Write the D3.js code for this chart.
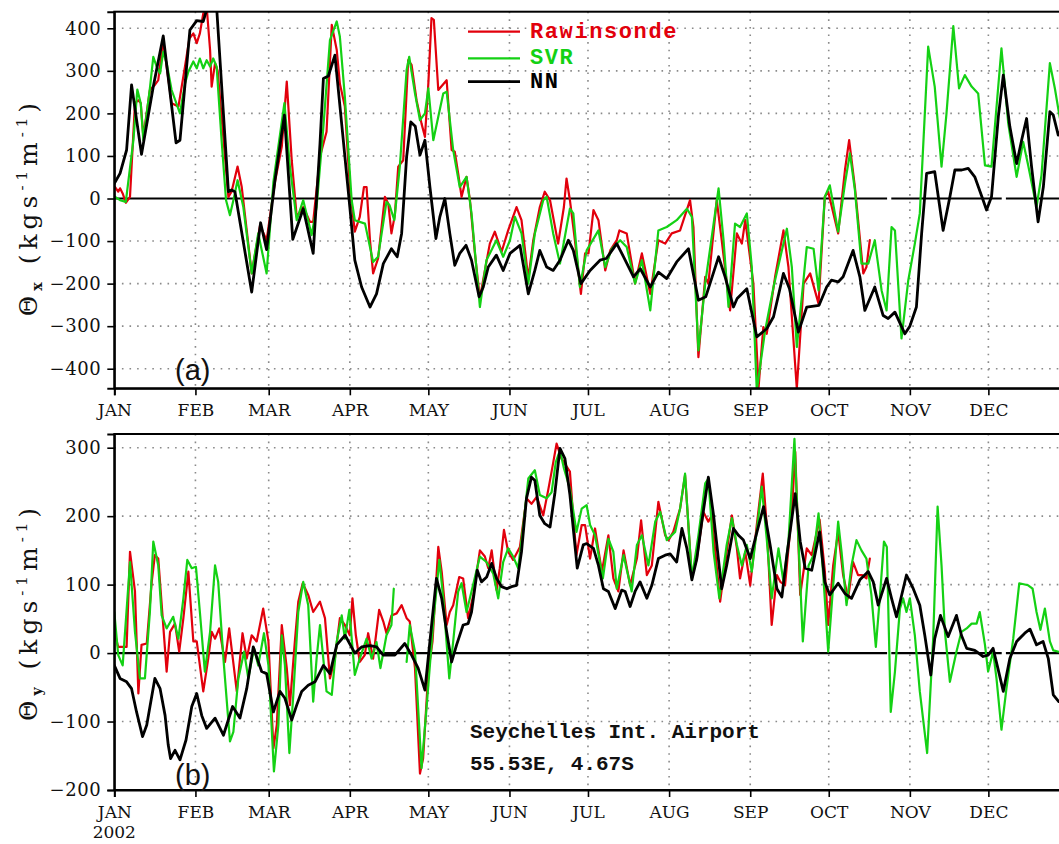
<!DOCTYPE html>
<html>
<head>
<meta charset="utf-8">
<script src="https://cdn.jsdelivr.net/npm/d3@7"></script>
<style>
  body { margin: 0; background: #fff; }
  svg { display: block; }
</style>
</head>
<body>
<svg id="chart" width="1059" height="844"></svg>
<script>
// ---- calendar axis (day of year 2002, 0 = Jan 1) ----
const monthStarts = [0, 31, 59, 90, 120, 151, 181, 212, 243, 273, 304, 334];
const monthLabels = ["JAN", "FEB", "MAR", "APR", "MAY", "JUN", "JUL", "AUG", "SEP", "OCT", "NOV", "DEC"];
const yearLabel = "2002";

// ---- y ticks ----
const yTicksA = [-400, -300, -200, -100, 0, 100, 200, 300, 400];
const yTicksB = [-200, -100, 0, 100, 200, 300];

// days with no reference line drawn
const zeroLineGaps = [[295.3, 296.9], [339.1, 340.7]];

// ---- series names ----
const seriesNames = ["Rawinsonde", "SVR", "NN"];

// ---- panel (a): zonal transport, [day, value] ----
const rawX = [[0.3,27],[1.5,16],[2.2,24],[3.2,12],[4.4,-10],[6,4],[7.9,224],[9.2,231],[10.1,224],[11.1,145],[13.6,255],[15.5,267],[16.8,278],[18.7,372],[20,310],[21.9,224],[24.5,216],[27,310],[28.7,376],[30.2,388],[31.5,365],[32.7,388],[34,435],[35.3,450],[36.6,349],[37.2,263],[38.5,318],[39.5,300],[43.6,4],[44.8,16],[47.1,75],[48.7,27],[52.5,-176],[55.7,-63],[58.2,-98],[61.4,39],[64,122],[65.9,275],[67.8,90],[69.7,-43],[72.2,-20],[74.8,-55],[76,-55],[78.6,98],[81.1,157],[83.1,408],[85,349],[86.2,270],[88.1,216],[90,27],[91.9,-78],[93.8,-43],[95.4,27],[96.4,27],[97.7,-98],[98.9,-176],[100.8,-141],[103.4,4],[104.7,-12],[105.9,-82],[107.2,-39],[108.5,75],[110.4,90],[112.3,325],[113.6,314],[115.5,231],[117.4,176],[118.7,145],[120,270],[121.2,424],[122.1,420],[123.8,255],[127,278],[128.9,114],[130.1,110],[131.4,59],[132.7,4],[134.6,51],[135.9,-4],[137.8,-129],[139.7,-235],[141.6,-169],[143.5,-106],[145.4,-78],[148,-125],[150.5,-75],[153.7,-20],[155.6,-51],[158.2,-188],[160.1,-98],[162.6,-20],[164.5,16],[166.5,-4],[169.6,-106],[171.8,-20],[172.8,47],[174.1,-4],[176,-98],[178.3,-224],[179.9,-129],[181.2,-129],[183.1,-27],[185,-51],[187.6,-169],[189.5,-122],[192,-98],[193,-75],[195.8,-82],[199,-200],[201.6,-129],[204.8,-224],[207.9,-98],[210.5,-106],[213,-82],[216.2,-75],[220,-4],[221.3,-67],[223.2,-373],[225.8,-184],[227,-200],[230.2,-4],[232.1,-98],[235.3,-263],[237.9,-82],[239.8,-106],[241.1,-51],[244.2,-200],[246.2,-443],[248,-302],[249.3,-318],[252.5,-184],[255.7,-75],[257.6,-161],[260.8,-447],[263.4,-200],[265.9,-176],[269.1,-247],[271.5,4],[272.8,16],[276.6,-82],[279.2,67],[280.8,137],[283,27],[286.2,-176],[287.4,-161],[288.7,-98]];

const svrX = [[0.3,4],[2.2,-4],[4.4,-8],[7.3,137],[8.8,256],[10.1,224],[11.1,137],[13.6,259],[14.9,333],[16.2,310],[17.5,294],[18.7,345],[20,318],[21.9,255],[25.1,200],[27,270],[28.3,298],[30.2,322],[31.5,306],[32.7,329],[34,306],[35.3,325],[36.6,310],[37.8,329],[39.1,310],[41,137],[42.7,-4],[44.2,-39],[45.5,-4],[47.1,43],[49.3,-20],[52.5,-176],[55,-82],[58.2,-176],[60.8,39],[65,224],[67.1,75],[69.7,-51],[72.2,-4],[75.4,-86],[77.3,-20],[79.9,169],[82.4,372],[85,416],[86.2,380],[88.1,239],[90.7,-4],[91.9,-51],[95.8,-59],[98.9,-149],[100.8,-137],[104,-8],[105.2,-16],[107,-51],[109.1,75],[111.7,302],[112.7,333],[114.9,247],[116.8,184],[118.7,200],[120,259],[121.9,137],[123.8,192],[125.7,247],[127,251],[129.5,114],[132,27],[134.6,51],[136.5,-35],[139.7,-255],[142.2,-145],[143.5,-129],[146,-98],[148.6,-137],[151.2,-98],[153.1,-43],[155.6,-82],[158.2,-200],[160.7,-82],[163.9,-4],[165.2,4],[167.7,-82],[170.3,-153],[174.1,-24],[175.4,-35],[177.9,-208],[180.5,-122],[185,-75],[187.6,-161],[190.1,-118],[193.3,-98],[195.8,-114],[199,-200],[201.6,-145],[204.8,-263],[207.9,-75],[211.1,-67],[214.9,-51],[218.8,-24],[220.7,-43],[223.2,-357],[225.8,-200],[228.3,-90],[230.9,24],[232.8,-98],[234.7,-255],[237.2,-59],[239.1,-67],[241.7,-35],[243.6,-161],[245.5,-451],[248.7,-310],[251.9,-208],[257,-71],[258.9,-161],[260.8,-349],[264.6,-114],[267.2,-118],[269.1,-216],[271.5,4],[273.4,31],[276.6,-78],[279.2,35],[281.1,106],[283,20],[285.5,-153],[288.1,-153],[290.6,-98],[293.2,-216],[295.1,-263],[297,-67],[298.3,-75],[300.8,-329],[303.4,-192],[305.9,-106],[307.8,-35],[311,357],[313.5,263],[316.1,75],[318,200],[320.6,405],[322.8,259],[325,290],[327.6,263],[330.1,247],[332.7,78],[335.2,75],[339,353],[341.6,176],[344.8,51],[347.3,133],[349.2,78],[352.4,-20],[354.3,55],[357.5,318],[359.4,259],[361,200],[362.5,150]];

const nnX = [[0,35],[2.2,59],[4.7,114],[6.6,267],[10.4,104],[14.9,263],[18.7,382],[23.6,131],[25.1,137],[28.9,396],[31.5,418],[34,416],[36.5,470],[39.2,440],[43.6,16],[44.8,20],[46.1,16],[52.5,-220],[55.9,-57],[58.2,-120],[61.4,43],[65,196],[68.2,-96],[72.2,-24],[76,-129],[78.6,129],[79.9,282],[81.8,288],[84.3,337],[87.5,137],[90,-20],[91.9,-145],[94.5,-208],[97.7,-255],[100.2,-224],[102.8,-153],[105.9,-118],[108.1,-137],[109.8,-82],[111.7,98],[113.3,180],[115,170],[116.8,102],[118.7,137],[120.6,27],[122.9,-94],[124.4,-43],[126.3,0],[128.2,-82],[130.1,-157],[132,-129],[134.4,-110],[136.5,-145],[139.4,-231],[141,-208],[142.9,-161],[146,-133],[148.6,-169],[151.2,-129],[155,-110],[158.2,-224],[160.7,-169],[162.6,-122],[165.2,-161],[167.7,-169],[170.3,-145],[173.5,-98],[175.4,-122],[178.3,-200],[181.8,-169],[185.6,-145],[188,-141],[192,-106],[194.6,-137],[198.4,-184],[201,-165],[204.8,-208],[207.9,-173],[211.1,-188],[214.9,-149],[219.4,-118],[223.2,-239],[226,-231],[230.9,-137],[233.4,-184],[236.6,-255],[238,-235],[241.7,-212],[245.5,-325],[249.3,-306],[251.9,-278],[255.7,-176],[258,-212],[261.4,-314],[264.6,-255],[269.3,-251],[272.2,-208],[274,-192],[276.6,-196],[278.5,-184],[282.3,-122],[284.9,-184],[286.8,-263],[290.6,-208],[293.8,-275],[295.7,-282],[298.3,-267],[302.1,-318],[304,-300],[306.5,-255],[308.5,-82],[310.4,59],[313.5,63],[316.7,-75],[319.3,4],[321.2,67],[323.8,67],[326.3,71],[328.8,51],[332,-4],[333.3,-27],[335.2,4],[337.8,192],[339.7,290],[342.2,169],[344.8,82],[346.7,137],[348.6,188],[350.5,75],[353,-55],[355,27],[357.5,204],[358.8,196],[360.7,149],[362.6,169]];

// ---- panel (b): meridional transport, [day, value]; null marks a missing stretch ----
const rawY = [[0,31],[1.5,9],[3.2,9],[4.7,9],[6,148],[7.9,90],[9.2,-59],[10.4,12],[12.4,14],[14.3,104],[15.5,143],[16.8,138],[18.5,51],[20,-27],[21.3,31],[23.2,43],[24.8,2],[26.4,51],[28.3,119],[30.2,17],[31.5,17],[34,-56],[35.9,-8],[37.2,31],[38.5,21],[40.1,36],[42.3,-13],[43.9,36],[46.8,-56],[49,29],[50.6,-8],[52.5,26],[54.4,17],[56.9,65],[58.9,17],[60.8,-139],[62.1,-105],[64,41],[65.9,-22],[67.1,-76],[69,17],[70.3,75],[72,102],[74.1,85],[76,60],[78.6,75],[80.5,51],[82.4,-37],[84.3,-8],[86.2,51],[88.1,41],[90,26],[91,80],[92.3,26],[93.8,-13],[95.7,-3],[97,29],[98.9,-8],[101.2,63],[102.8,46],[104,29],[105.9,55],[107.9,58],[109.8,70],[111.7,51],[112.9,46],[114.9,-22],[116.8,-176],[118,-154],[120,-27],[121.6,17],[123.8,155],[125.1,119],[127,41],[128.2,60],[129.5,70],[131.8,111],[133.3,109],[135.2,51],[137.2,85],[139.7,150],[141.6,141],[142.9,124],[144.2,150],[146.1,92],[147.3,124],[148.9,180],[150.5,148],[152.4,136],[155,155],[157.5,226],[159.4,218],[161.4,228],[163.9,201],[165.8,238],[167.1,265],[169,306],[170.9,284],[174.1,265],[175.4,197],[176.6,143],[178.6,187],[179.9,187],[181.8,138],[183.7,182],[186.3,119],[188.8,172],[190.7,109],[192.6,90],[194.6,150],[197.1,99],[199.7,138],[201.3,194],[203.5,114],[205.4,128],[207.9,221],[210.5,172],[211.8,165],[213.6,177],[216.2,211],[218.1,260],[220.7,111],[222.6,138],[225.1,206],[227,192],[228.3,201],[231.5,75],[234,148],[236,201],[237.9,153],[239.1,109],[241.1,148],[243,99],[245.5,187],[247.8,262],[249.3,187],[251.2,41],[253.2,114],[254.5,104],[256.3,99],[258.9,206],[260.2,294],[262.1,85],[264.6,153],[266.5,143],[269.5,195],[271.5,120],[272.8,41],[274.7,128],[276.6,177],[278.5,114],[280.4,80],[282.3,133],[284.2,114],[285.8,114],[287.4,109],[288.7,138]];

const svrY = [[0,60],[1.5,-3],[3.2,-18],[6,133],[7.9,31],[9.8,-37],[11.7,-37],[13.6,60],[14.9,163],[16.8,128],[18.1,55],[20,36],[22.5,53],[24.5,21],[26.4,80],[27.9,136],[29.6,124],[31.2,126],[32.7,60],[34.6,-27],[36.6,31],[38.5,128],[39.7,104],[41.7,-8],[44.2,-129],[45.5,-115],[47.4,-37],[49.6,2],[51.2,-37],[53.4,7],[55,-18],[57.2,29],[58.9,-18],[61,-173],[62.7,-105],[64,26],[65.2,-18],[66.9,-146],[68.4,-61],[70.3,60],[72.2,104],[74.1,70],[76,-71],[77.3,-8],[78.6,41],[81.1,-56],[83.1,-61],[85,17],[86.9,55],[88.1,21],[89.8,63],[91.9,-32],[93.8,-8],[96.4,21],[98.3,-8],[100.2,16],[101.7,-22],[104,26],[105.9,41],[106.8,94],[108,null],[111.7,-13],[112.9,41],[114.9,2],[117.4,-168],[119.3,-81],[121.9,46],[124.2,136],[125.7,80],[128,-37],[129.5,17],[131.4,90],[132.7,102],[134.6,60],[136.5,90],[139.7,141],[142.2,133],[144.8,116],[146.7,80],[148.6,133],[150.5,153],[152.4,141],[154.3,124],[156.3,187],[158.2,255],[160.7,267],[162.6,231],[165.2,226],[167.1,235],[168.7,279],[170.3,296],[171.8,270],[174.1,240],[176.6,177],[178.6,211],[180.5,216],[181.8,187],[183.7,172],[186.7,109],[188.8,167],[190.7,148],[192,94],[194.6,143],[197.7,90],[199.7,158],[201.6,172],[204.1,128],[206.7,192],[208.6,206],[211.1,165],[214.3,177],[216.2,211],[218.1,262],[220.7,109],[223.2,172],[225.8,248],[227,255],[229,148],[231.2,80],[234,158],[236,197],[237.9,158],[239.8,128],[241.7,158],[243.6,119],[246.2,201],[247.4,243],[249.3,167],[251.2,80],[253.8,153],[255.7,104],[257.6,163],[259.9,313],[261.4,167],[263.1,17],[265.3,128],[267.2,143],[269.1,204],[270.9,114],[272.8,2],[274.7,99],[276.6,192],[277.9,148],[279.8,70],[281.7,128],[283.6,165],[285.5,150],[287.4,138],[289.3,85],[291,9],[292.5,80],[294.1,163],[295.2,155],[296.7,-86],[298.3,-27],[300.2,65],[301.4,80],[302.7,60],[304,80],[305.9,26],[307.8,-56],[310.6,-146],[312.9,21],[314.6,214],[316.1,128],[317.4,31],[319.3,-42],[321.8,2],[323.7,31],[325.7,36],[327.6,43],[329.5,43],[330.7,60],[332.7,12],[333.9,-27],[335.8,2],[337.1,-37],[339,-112],[340.9,-52],[343.5,21],[345.8,102],[349.2,99],[350.9,94],[352.4,60],[353.9,34],[355.6,65],[357.5,17],[358.8,4],[360.9,2],[362.5,0]];

const nnY = [[0,-18],[2.2,-37],[4.7,-42],[6.6,-52],[8.5,-86],[10.8,-122],[12.4,-105],[15.5,-37],[17.5,-52],[19.4,-91],[20.6,-134],[21.5,-154],[23.2,-142],[25.1,-156],[27.4,-127],[29.6,-78],[31.5,-59],[33.4,-91],[35.3,-110],[38.5,-95],[41.7,-120],[45.2,-78],[48,-95],[50.6,-52],[53.1,9],[56.3,-27],[58.2,-30],[60.8,-86],[63.3,-56],[65.2,-66],[67.8,-98],[69.7,-76],[71.6,-56],[74.1,-47],[76.7,-42],[79.9,-18],[82.4,-30],[85,12],[88.2,26],[91.9,0],[94.5,9],[97.7,11],[100.2,9],[102.8,-3],[107.2,-3],[111,14],[113.6,-3],[116.1,-22],[118.7,-54],[120.6,17],[123.1,109],[125.1,80],[127,31],[128.9,-13],[130.8,12],[133.3,41],[135.2,43],[136.5,60],[138.7,121],[140.3,104],[142.3,111],[144.2,131],[146.1,109],[148,97],[150,94],[151.8,97],[153.7,99],[155.6,148],[157.5,226],[159.4,257],[160.7,252],[162.6,201],[164.5,189],[166.5,184],[168.4,235],[170.3,299],[172.2,284],[174.1,231],[176,158],[176.9,124],[179.2,158],[180.5,160],[183.1,153],[185,128],[186.9,94],[188.8,90],[191.4,65],[193.9,92],[195.2,90],[197.1,68],[199,90],[200.9,104],[203.5,80],[205.4,99],[207.9,138],[210.5,143],[212.4,145],[214.9,133],[216.9,182],[218.8,153],[220.7,107],[222.6,138],[224.5,192],[227,257],[229,201],[232.1,94],[234,128],[236.6,182],[238.5,172],[240.4,165],[243,138],[244.9,167],[248.1,214],[250.6,158],[253.2,94],[255.1,82],[257,143],[260.2,233],[262.1,163],[264,124],[266.5,121],[269.5,177],[271.5,104],[273.4,85],[276.6,102],[279.2,87],[281.7,80],[284.9,107],[288.1,119],[290,104],[291.9,70],[295.1,109],[297,80],[298.9,53],[302.7,114],[305.3,94],[307.8,70],[309.7,26],[312,-32],[313.5,21],[315.7,55],[318.6,24],[321.8,55],[323.7,26],[325.7,7],[328.8,4],[332,-5],[333.9,-3],[335.8,7],[337.8,-25],[339.7,-56],[342.2,-8],[344.8,17],[347.9,29],[349.9,35],[352.4,12],[354.9,17],[356.9,-8],[358.8,-61],[360.9,-71],[362.5,-70]];

// ---- styling ----
const colors = { raw: "#e2000c", svr: "#14d114", nn: "#000000" };
const numFont = "'DejaVu Serif', serif";
const monoFont = "'Liberation Mono', 'DejaVu Sans Mono', monospace";

const svg = d3.select("#chart");

const x = d3.scaleLinear().domain([0, 365]).range([114.3, 1069.5]);

const panels = [
  { key: "a", y: d3.scaleLinear().domain([-446, 439]).range([388.3, 11.7]), ticks: yTicksA,
    series: [rawX, svrX, nnX], sub: "x", label: "(a)", labelY: 380, titleY: 207 },
  { key: "b", y: d3.scaleLinear().domain([-200, 320]).range([790, 434]), ticks: yTicksB,
    series: [rawY, svrY, nnY], sub: "y", label: "(b)", labelY: 785, titleY: 612 }
];

const defs = svg.append("defs");

panels.forEach(p => {
  const [yBottom, yTop] = p.y.range();
  const g = svg.append("g").attr("class", "panel-" + p.key);

  defs.append("clipPath").attr("id", "clip-" + p.key)
    .append("rect").attr("x", x(0)).attr("y", yTop)
    .attr("width", x(365) - x(0)).attr("height", yBottom - yTop);

  // dotted grid
  const grid = g.append("g").attr("stroke", "#8a8a8a").attr("stroke-width", 1.6)
    .attr("stroke-dasharray", "1.6 6");
  grid.selectAll("line.h").data(p.ticks.filter(t => t !== 0 && p.y(t) < yBottom - 1))
    .join("line").attr("class", "h")
    .attr("x1", x(0)).attr("x2", x(365)).attr("y1", d => p.y(d)).attr("y2", d => p.y(d));
  grid.selectAll("line.v").data(monthStarts.slice(1))
    .join("line").attr("class", "v")
    .attr("x1", d => x(d)).attr("x2", d => x(d)).attr("y1", yTop).attr("y2", yBottom);

  // zero reference line, broken at the missing days
  const zeroSegs = [];
  let start = 0;
  zeroLineGaps.forEach(([a, b]) => { zeroSegs.push([start, a]); start = b; });
  zeroSegs.push([start, 365]);
  g.append("g").selectAll("line").data(zeroSegs).join("line")
    .attr("x1", d => x(d[0])).attr("x2", d => x(d[1]))
    .attr("y1", p.y(0)).attr("y2", p.y(0))
    .attr("stroke", "#000").attr("stroke-width", 2.2);

  // data lines
  const line = d3.line()
    .defined(d => d[1] !== null)
    .x(d => x(d[0])).y(d => p.y(d[1]));
  const lines = g.append("g").attr("clip-path", `url(#clip-${p.key})`).attr("fill", "none")
    .attr("stroke-linejoin", "round").attr("stroke-linecap", "round");
  lines.append("path").datum(p.series[0]).attr("d", line)
    .attr("stroke", colors.raw).attr("stroke-width", 2.2);
  lines.append("path").datum(p.series[1]).attr("d", line)
    .attr("stroke", colors.svr).attr("stroke-width", 2.2);
  lines.append("path").datum(p.series[2]).attr("d", line)
    .attr("stroke", colors.nn).attr("stroke-width", 2.8);

  // frame
  g.append("rect").attr("x", x(0)).attr("y", yTop)
    .attr("width", x(365) - x(0)).attr("height", yBottom - yTop)
    .attr("fill", "none").attr("stroke", "#000").attr("stroke-width", 2);

  // axes
  const yAxis = g.append("g").attr("transform", `translate(${x(0)},0)`)
    .call(d3.axisLeft(p.y).tickValues(p.ticks).tickSize(7).tickPadding(6));
  const xAxis = g.append("g").attr("transform", `translate(0,${yBottom})`)
    .call(d3.axisBottom(x).tickValues(monthStarts).tickSize(7).tickPadding(9)
      .tickFormat((d, i) => monthLabels[i]));
  [yAxis, xAxis].forEach(ax => {
    ax.select(".domain").attr("stroke-width", 2);
    ax.selectAll(".tick line").attr("stroke-width", 1.6);
    ax.selectAll("text").attr("font-family", numFont).attr("fill", "#111");
  });
  yAxis.selectAll("text").attr("font-size", 18).attr("letter-spacing", 0.6);
  xAxis.selectAll("text").attr("font-size", 17);

  // rotated axis title: Θx (kgs-1m-1)
  const title = g.append("text")
    .attr("transform", `translate(37,${p.titleY}) rotate(-90)`)
    .attr("text-anchor", "middle").attr("font-family", numFont).attr("font-size", 25)
    .attr("letter-spacing", 5).attr("fill", "#111");
  title.append("tspan").text("\u0398");
  title.append("tspan").attr("font-size", 14).attr("font-weight", "bold").attr("dy", 5).text(p.sub);
  title.append("tspan").attr("dy", -5).text(" (kgs");
  title.append("tspan").attr("font-size", 15).attr("dy", -10).text("-1");
  title.append("tspan").attr("dy", 10).text("m");
  title.append("tspan").attr("font-size", 15).attr("dy", -10).text("-1");
  title.append("tspan").attr("dy", 10).text(")");

  // panel tag
  g.append("text").attr("x", 175).attr("y", p.labelY)
    .attr("font-family", "'Liberation Sans', Arial, sans-serif").attr("font-size", 29)
    .attr("fill", "#111").text(p.label);
});

// year under the first month of the lower panel
svg.append("text").attr("x", x(0)).attr("y", 838).attr("text-anchor", "middle")
  .attr("font-family", numFont).attr("font-size", 17).attr("fill", "#111").text(yearLabel);

// legend in the upper panel
const legend = svg.append("g");
const legendRows = [
  { name: seriesNames[0], color: colors.raw, y: 31.7, w: 2.2 },
  { name: seriesNames[1], color: colors.svr, y: 58.3, w: 2.2 },
  { name: seriesNames[2], color: colors.nn, y: 81.7, w: 2.8 }
];
legendRows.forEach(r => {
  legend.append("line").attr("x1", 468).attr("x2", 520).attr("y1", r.y).attr("y2", r.y)
    .attr("stroke", r.color).attr("stroke-width", r.w);
  legend.append("text").attr("x", 530).attr("y", r.y + 6)
    .attr("font-family", monoFont).attr("font-weight", "bold").attr("font-size", 22)
    .attr("letter-spacing", 1.6).attr("fill", r.color).text(r.name);
});

// station annotation in the lower panel
const note = svg.append("g").attr("font-family", monoFont).attr("font-weight", "bold")
  .attr("font-size", 21).attr("fill", "#111");
note.append("text").attr("x", 470).attr("y", 738).text("Seychelles Int. Airport");
note.append("text").attr("x", 470).attr("y", 770).text("55.53E, 4.67S");
</script>
</body>
</html>
